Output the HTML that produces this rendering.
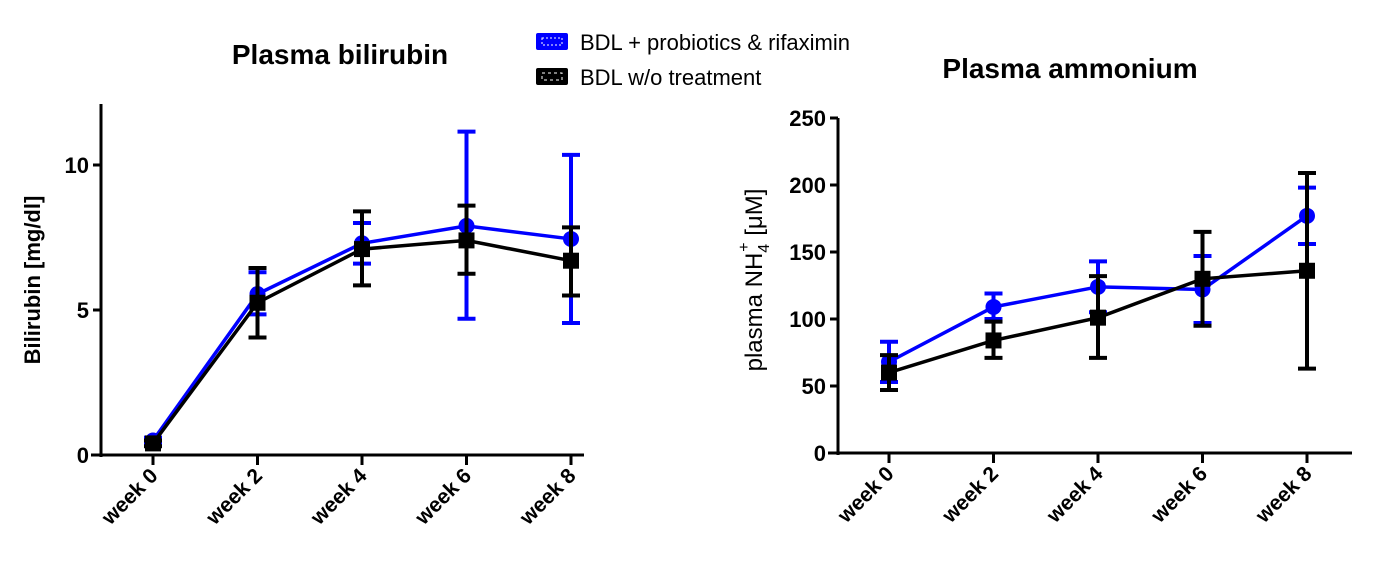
<!DOCTYPE html>
<html><head><meta charset="utf-8"><style>
body{margin:0;background:#fff;width:1384px;height:576px;overflow:hidden;font-family:"Liberation Sans",Arial,sans-serif}
svg text{font-family:"Liberation Sans",Arial,sans-serif}
</style></head><body>
<svg id="c" width="1384" height="576">
<text x="340" y="64" font-size="28" font-weight="bold" text-anchor="middle">Plasma bilirubin</text>
<text x="1070" y="78" font-size="28" font-weight="bold" text-anchor="middle">Plasma ammonium</text>
<g>
<rect x="536" y="33" width="32" height="17" rx="2" fill="#0000ff"/>
<rect x="542" y="38" width="20" height="7" fill="none" stroke="#fff" stroke-dasharray="2 2"/>
<text x="580" y="50" font-size="22">BDL + probiotics &amp; rifaximin</text>
<rect x="536" y="68" width="32" height="17" rx="2" fill="#000"/>
<rect x="542" y="73" width="20" height="7" fill="none" stroke="#fff" stroke-dasharray="3 3"/>
<text x="580" y="85" font-size="22">BDL w/o treatment</text>
</g>
<text transform="translate(40,280) rotate(-90)" font-size="22" font-weight="bold" text-anchor="middle">Bilirubin [mg/dl]</text>
<text transform="translate(762,280) rotate(-90)" font-size="24" text-anchor="middle" fill="#000">plasma NH<tspan font-size="16" dy="7">4</tspan><tspan font-size="16" dx="-8" dy="-20">+</tspan><tspan dy="13"> [μM]</tspan></text>
</svg>
<script>
const categories=["week 0","week 2","week 4","week 6","week 8"];
const biliTreated=[0.5,5.55,7.3,7.9,7.45];
const biliTreatedLo=[0.4,4.85,6.6,4.7,4.55];
const biliTreatedHi=[0.6,6.3,8.0,11.15,10.35];
const biliUntreated=[0.4,5.25,7.1,7.4,6.7];
const biliUntreatedLo=[0.3,4.05,5.85,6.25,5.5];
const biliUntreatedHi=[0.5,6.45,8.4,8.6,7.85];
const biliTicks=[0,5,10];
const ammTreated=[68,109,124,122,177];
const ammTreatedLo=[53,100,105,97,156];
const ammTreatedHi=[83,119,143,147,198];
const ammUntreated=[60,84,101,130,136];
const ammUntreatedLo=[47,71,71,95,63];
const ammUntreatedHi=[73,98,132,165,209];
const ammTicks=[0,50,100,150,200,250];
const svg=document.getElementById('c');
const NS='http://www.w3.org/2000/svg';
function mk(tag,at){const e=document.createElementNS(NS,tag);for(const k in at)e.setAttribute(k,at[k]);svg.appendChild(e);return e;}
function chart(cfg){
  const xs=i=>cfg.x0+i*cfg.dx;
  const ys=v=>cfg.y0-(v-0)/cfg.max*(cfg.y0-cfg.yTop);
  let a=mk('line',{x1:cfg.ax,y1:cfg.axTop,x2:cfg.ax,y2:cfg.y0+2,stroke:'#000','stroke-width':3});
  
  
  a=mk('line',{x1:cfg.ax-10,y1:cfg.y0,x2:cfg.axRight,y2:cfg.y0,stroke:'#000','stroke-width':3});
  
  
  cfg.ticks.forEach(t=>{
    const l=mk('line',{x1:cfg.ax-8,y1:ys(t),x2:cfg.ax,y2:ys(t),stroke:'#000','stroke-width':3});
    
    
    const tx=mk('text',{x:cfg.ax-12,y:ys(t)+8,'font-size':22,'font-weight':'bold','text-anchor':'end'});
    tx.textContent=t;
    
    
  });
  categories.forEach((c,i)=>{
    const l=mk('line',{x1:xs(i),y1:cfg.y0,x2:xs(i),y2:cfg.y0+10,stroke:'#000','stroke-width':3});
    
    
    const tx=mk('text',{transform:`translate(${xs(i)+6},${cfg.y0+22}) rotate(-45)`,'font-size':21,'font-weight':'bold','text-anchor':'end'});
    tx.textContent=c;
    
    
  });
  cfg.series.forEach(s=>{
    const pl=mk('polyline',{points:s.v.map((v,i)=>xs(i)+','+ys(v)).join(' '),fill:'none',stroke:s.c,'stroke-width':3.5});
    
    
    s.v.forEach((v,i)=>{
      const g=mk('path',{d:`M${xs(i)},${ys(s.lo[i])}V${ys(s.hi[i])}M${xs(i)-9},${ys(s.lo[i])}h18M${xs(i)-9},${ys(s.hi[i])}h18`,stroke:s.c,'stroke-width':4,fill:'none'});
      
      
      let m;
      if(s.sq) m=mk('rect',{x:xs(i)-8,y:ys(v)-8,width:16,height:16,fill:s.c});
      else m=mk('circle',{cx:xs(i),cy:ys(v),r:8,fill:s.c});
      
      
    });
  });
}
chart({p:'bilirubin',x0:153,dx:104.5,y0:455,yTop:165,max:10,ax:101,axTop:104,axRight:584,ticks:biliTicks,
 series:[{n:'treated',c:'#0000ff',v:biliTreated,lo:biliTreatedLo,hi:biliTreatedHi},
         {n:'untreated',c:'#000',v:biliUntreated,lo:biliUntreatedLo,hi:biliUntreatedHi,sq:1}]});
chart({p:'ammonium',x0:889,dx:104.5,y0:453,yTop:118,max:250,ax:838,axTop:118,axRight:1352,ticks:ammTicks,
 series:[{n:'treated',c:'#0000ff',v:ammTreated,lo:ammTreatedLo,hi:ammTreatedHi},
         {n:'untreated',c:'#000',v:ammUntreated,lo:ammUntreatedLo,hi:ammUntreatedHi,sq:1}]});
</script>
</body></html>
